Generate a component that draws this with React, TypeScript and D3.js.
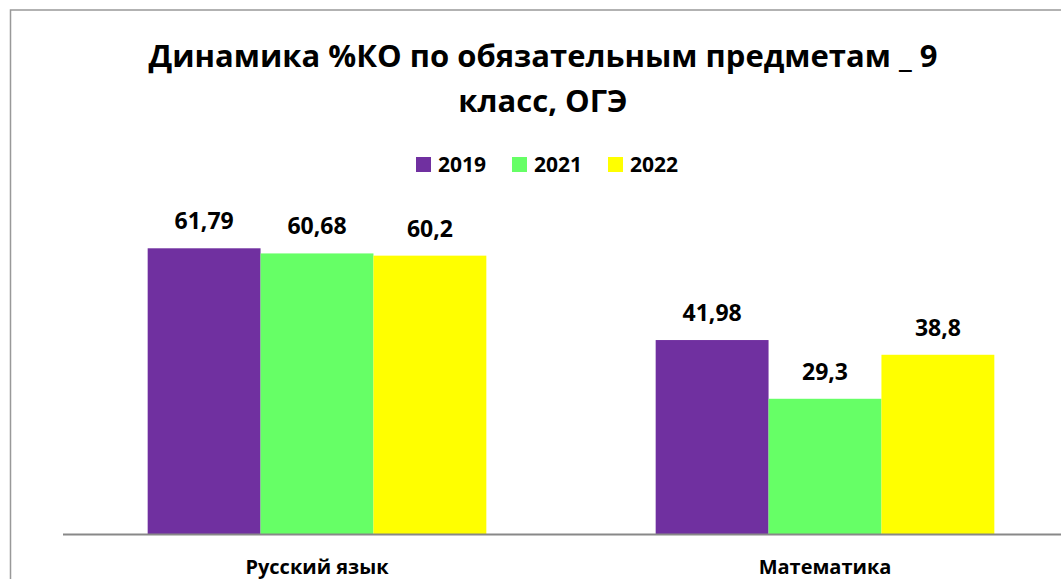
import React from "react";
import * as d3 from "d3";

const categories = ["Русский язык", "Математика"];
const years = ["2019", "2021", "2022"];
const v2019 = [61.79, 41.98];
const v2021 = [60.68, 29.3];
const v2022 = [60.2, 38.8];
const labels2019 = ["61,79", "41,98"];
const labels2021 = ["60,68", "29,3"];
const labels2022 = ["60,2", "38,8"];
const colors = ["#7030A0", "#66FF66", "#FFFF00"];
const titleLines = ["Динамика %КО по обязательным предметам _ 9", "класс, ОГЭ"];

const W = 1061;
const H = 579;
const FONT = "'Open Sans', 'DejaVu Sans', sans-serif";

export default function App() {
  const series = [v2019, v2021, v2022];
  const seriesLabels = [labels2019, labels2021, labels2022];
  const plotLeft = 63;
  const plotRight = 1079;
  const baseY = 534.5;
  const x0 = d3.scaleBand<string>().domain(categories).range([plotLeft, plotRight]).paddingInner(0).paddingOuter(0);
  const groupW = x0.bandwidth() * (3 / 4.5);
  const x1 = d3.scaleBand<string>().domain(years).range([0, groupW]).padding(0);
  const y = d3.scaleLinear().domain([0, 70]).range([baseY, baseY - 70 * 4.632]);

  const legendX = [416, 512, 608];

  return (
    <svg width={W} height={H} style={{ position: "absolute", left: 0, top: 0, background: "#fff" }} fontFamily={FONT}>
      <rect x={0} y={0} width={W} height={H} fill="#fff" />
      <rect x={10.5} y={10} width={1200} height={700} fill="none" stroke="#999" strokeWidth={1.5} />
      {titleLines.map((t, i) => (
        <text key={i} x={543} y={67 + i * 45} textAnchor="middle" fontSize={31} fontWeight="bold" fill="#000">
          {t}
        </text>
      ))}
      {years.map((yr, i) => (
        <g key={yr}>
          <rect x={legendX[i]} y={157} width={15} height={15} fill={colors[i]} />
          <text x={legendX[i] + 22} y={172} fontSize={21} fontWeight="bold" fill="#000">
            {yr}
          </text>
        </g>
      ))}
      {categories.map((c, ci) => {
        const gx = (x0(c) as number) + (x0.bandwidth() - groupW) / 2;
        return (
          <g key={c}>
            {years.map((yr, si) => {
              const v = series[si][ci];
              const bx = gx + (x1(yr) as number);
              return (
                <g key={yr}>
                  <rect x={bx} y={y(v)} width={x1.bandwidth()} height={baseY - y(v)} fill={colors[si]} />
                  <text x={bx + x1.bandwidth() / 2} y={y(v) - 19} textAnchor="middle" fontSize={23} fontWeight="bold" fill="#000">
                    {seriesLabels[si][ci]}
                  </text>
                </g>
              );
            })}
            <text x={(x0(c) as number) + x0.bandwidth() / 2} y={574} textAnchor="middle" fontSize={20} fontWeight="bold" fill="#000">
              {c}
            </text>
          </g>
        );
      })}
      <line x1={plotLeft} x2={plotRight} y1={baseY} y2={baseY} stroke="#888" strokeWidth={2} />
    </svg>
  );
}
